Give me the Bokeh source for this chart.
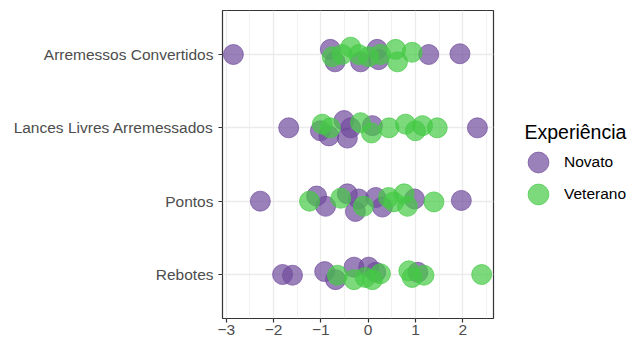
from bokeh.plotting import figure
from bokeh.layouts import row
from bokeh.models import Range1d, FixedTicker, Legend, LegendItem, ColumnDataSource, Label
from bokeh.embed import file_html
from bokeh.resources import INLINE

# categories (bottom to top)
categories = ["Rebotes", "Pontos", "Lances Livres Arremessados", "Arremessos Convertidos"]
x_ticks = [-3, -2, -1, 0, 1, 2]
x_minor = [-2.5, -1.5, -0.5, 0.5, 1.5, 2.5]
legend_title = "Experiência"
group_labels = ["Novato", "Veterano"]

# Novato points: category, x value, small vertical jitter
novato_cat = (["Arremessos Convertidos"] * 8 + ["Lances Livres Arremessados"] * 8
              + ["Pontos"] * 10 + ["Rebotes"] * 8)
novato_x = [-2.85, -0.80, -0.70, -0.16, 0.19, 0.22, 1.28, 1.94,
            -1.68, -1.01, -0.83, -0.51, -0.44, -0.37, 0.09, 2.31,
            -2.28, -1.09, -0.90, -0.44, -0.27, -0.20, 0.16, 0.30, 0.98, 1.97,
            -1.81, -1.60, -0.92, -0.69, -0.30, 0.01, 0.16, 1.05]
novato_dy = [0.0, 0.07, -0.10, -0.10, 0.07, -0.07, 0.0, 0.01,
             0.0, -0.04, -0.11, 0.10, -0.14, 0.0, 0.03, 0.0,
             0.0, 0.07, -0.07, 0.10, -0.14, 0.03, 0.05, -0.08, 0.03, 0.01,
             0.0, -0.01, 0.04, -0.07, 0.10, 0.10, 0.03, 0.03]

# Veterano points
veterano_cat = (["Arremessos Convertidos"] * 9 + ["Lances Livres Arremessados"] * 9
                + ["Pontos"] * 8 + ["Rebotes"] * 9)
veterano_x = [-0.76, -0.55, -0.37, -0.20, 0.01, 0.26, 0.58, 0.62, 0.93,
              -0.97, -0.80, -0.16, 0.07, 0.44, 0.79, 1.00, 1.15, 1.46,
              -1.24, -0.58, -0.10, 0.43, 0.54, 0.76, 0.83, 1.39,
              -0.65, -0.30, -0.06, 0.09, 0.26, 0.86, 0.93, 1.18, 2.40]
veterano_dy = [-0.03, 0.0, 0.10, 0.0, -0.03, 0.0, 0.07, -0.10, 0.03,
               0.05, 0.0, 0.07, -0.07, 0.0, 0.05, -0.04, 0.03, 0.0,
               0.0, 0.04, -0.07, 0.05, -0.01, 0.10, -0.07, -0.01,
               -0.01, -0.07, -0.04, -0.07, 0.01, 0.05, -0.04, -0.01, 0.0]

cat_pos = {c: i + 1 for i, c in enumerate(categories)}

PURPLE = "#704C9C"
GREEN = "#44C944"
FONT = "Liberation Sans"

p = figure(frame_width=271, frame_height=308, output_backend="svg", toolbar_location=None,
           x_range=Range1d(-3.08, 2.65), y_range=Range1d(0.4, 4.6),
           min_border_left=222, min_border_right=5, min_border_top=10,
           min_border_bottom=23)
p.background_fill_color = "white"
p.border_fill_color = "white"
p.outline_line_color = "#333333"
p.outline_line_width = 1.2

# axes
p.xaxis.ticker = FixedTicker(ticks=x_ticks, minor_ticks=x_minor)
p.yaxis.ticker = FixedTicker(ticks=[cat_pos[c] for c in categories])
p.yaxis.major_label_overrides = {cat_pos[c]: c for c in categories}
for ax in (p.xaxis[0], p.yaxis[0]):
    ax.axis_line_color = None
    ax.major_tick_line_color = "#333333"
    ax.major_tick_line_width = 1.2
    ax.major_tick_out = 4
    ax.major_tick_in = 0
    ax.minor_tick_line_color = None
    ax.major_label_text_color = "#4D4D4D"
    ax.major_label_text_font = FONT
    ax.major_label_text_font_size = "15.5px"
p.xaxis.major_label_standoff = 2
p.yaxis.major_label_standoff = 5

p.xgrid.grid_line_color = "#EBEBEB"
p.xgrid.grid_line_width = 1.3
p.xgrid.minor_grid_line_color = "#EBEBEB"
p.xgrid.minor_grid_line_width = 0.7
p.ygrid.grid_line_color = "#EBEBEB"
p.ygrid.grid_line_width = 1.3

src_n = ColumnDataSource(dict(
    x=novato_x, y=[cat_pos[c] + d for c, d in zip(novato_cat, novato_dy)]))
src_v = ColumnDataSource(dict(
    x=veterano_x, y=[cat_pos[c] + d for c, d in zip(veterano_cat, veterano_dy)]))

style_n = dict(size=20, fill_color=PURPLE, line_color=PURPLE, fill_alpha=0.7, line_alpha=0.7)
style_v = dict(size=20, fill_color=GREEN, line_color=GREEN, fill_alpha=0.7, line_alpha=0.7)
p.scatter("x", "y", source=src_n, **style_n)
p.scatter("x", "y", source=src_v, **style_v)

# legend panel: a small blank figure to the right holding the legend.
# Its ranges lie far away from the data, so only the legend keys are drawn.
lf = figure(width=144, height=341, output_backend="svg", toolbar_location=None,
            x_range=Range1d(100, 101), y_range=Range1d(100, 101),
            x_axis_type=None, y_axis_type=None, min_border=0)
lf.outline_line_color = None
lf.background_fill_color = "white"
lf.border_fill_color = "white"
lf.xgrid.visible = False
lf.ygrid.visible = False
k_n = lf.scatter("x", "y", source=src_n, **style_n)
k_v = lf.scatter("x", "y", source=src_v, **style_v)

lf.add_layout(Label(x=26, y=187, x_units="screen", y_units="screen", text=legend_title,
                    text_font=FONT, text_font_size="19.5px", text_color="black",
                    text_baseline="middle", text_align="left"))

for rend, lab, vy in ((k_n, group_labels[0], 130), (k_v, group_labels[1], 98)):
    lg = Legend(items=[LegendItem(label=lab, renderers=[rend])],
                location=(14, vy),
                label_text_font=FONT, label_text_font_size="15.5px",
                label_text_color="black",
                glyph_width=52, glyph_height=52, label_height=52,
                spacing=0, label_standoff=0, padding=0, margin=0,
                border_line_color=None, background_fill_alpha=0)
    lf.add_layout(lg)

layout = row(p, lf)
open("out.html", "w").write(file_html(layout, INLINE))
